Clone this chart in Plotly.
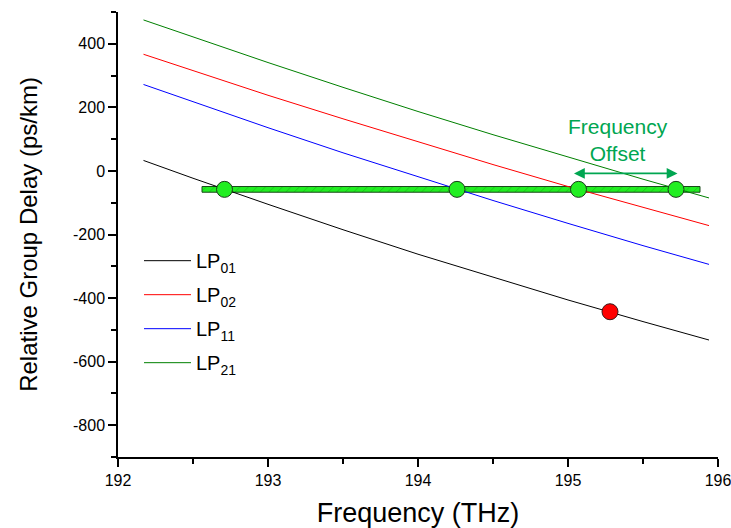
import plotly.graph_objects as go

# Frequency grid (THz) and relative group delay (ps/km)
freq = [192.17, 192.5, 193.0, 193.5, 194.0, 194.5, 195.0, 195.5, 195.94]
lp01 = [33, -23, -105, -185, -262, -335, -406, -474, -532]
lp02 = [367, 315, 238, 164, 91, 20, -49, -115, -172]
lp11 = [272, 217, 136, 57, -19, -93, -165, -235, -294]
lp21 = [475, 421, 341, 263, 187, 114, 43, -26, -85]

series_names = ["LP<sub>01</sub>", "LP<sub>02</sub>", "LP<sub>11</sub>", "LP<sub>21</sub>"]
series_values = [lp01, lp02, lp11, lp21]
series_colors = ["#000000", "#ff0000", "#0000ff", "#008000"]

# Green operating band and its crossing points
band_start = 192.56
band_end = 195.88
band_delay = -58
cross_freq = [192.71, 194.26, 195.07, 195.72]
cross_delay = [-58, -58, -58, -58]

# Red marker on LP01
red_freq = [195.28]
red_delay = [-443]

# Frequency offset arrow
arrow_from = 195.03
arrow_to = 195.73
arrow_delay = -8
label_freq = 195.33
label_delay = 97

x_ticks = [192, 193, 194, 195, 196]
y_ticks = [-800, -600, -400, -200, 0, 200, 400]

FONT = "Liberation Sans, Arial, sans-serif"
GREEN_TXT = "#00a651"

fig = go.Figure()

for i, (name, vals, col) in enumerate(zip(series_names, series_values, series_colors)):
    fig.add_trace(go.Scatter(x=freq, y=vals, mode="lines", name=name,
                             legendgroup=f"g{i}",
                             line=dict(color=col, width=1)))

fig.add_trace(go.Bar(orientation="h", y=[band_delay], x=[band_end - band_start],
                     base=[band_start], width=18, showlegend=False,
                     marker=dict(color="#22ee22",
                                 line=dict(color="#1a4a1a", width=1),
                                 pattern=dict(shape="/", fgcolor="#0b9a0b",
                                              size=6, solidity=0.15))))

fig.add_trace(go.Scatter(x=cross_freq, y=cross_delay, mode="markers", showlegend=False,
                         marker=dict(size=16, color="#22ee22",
                                     line=dict(color="#1a3a1a", width=1))))
fig.add_trace(go.Scatter(x=red_freq, y=red_delay, mode="markers", showlegend=False,
                         marker=dict(size=16, color="#ff0000",
                                     line=dict(color="#3a1a1a", width=1))))

fig.add_annotation(x=arrow_to, y=arrow_delay, ax=arrow_from, ay=arrow_delay,
                   xref="x", yref="y", axref="x", ayref="y", text="",
                   showarrow=True, arrowhead=2, arrowside="end+start",
                   arrowsize=1.2, arrowwidth=1.8, arrowcolor=GREEN_TXT)
fig.add_annotation(x=label_freq, y=label_delay, xref="x", yref="y",
                   text="Frequency<br>Offset", showarrow=False,
                   font=dict(family=FONT, size=21, color=GREEN_TXT))

fig.update_layout(
    width=731, height=528,
    margin=dict(l=118, r=13, t=12, b=71, autoexpand=False),
    plot_bgcolor="white", paper_bgcolor="white",
    font=dict(family=FONT, color="black", size=16),
    barmode="overlay",
    legend=dict(x=0.035, y=0.485, xanchor="left", yanchor="top",
                bgcolor="rgba(0,0,0,0)", font=dict(size=20, family=FONT),
                itemwidth=47, tracegroupgap=5),
    xaxis=dict(range=[192, 196], tickvals=x_ticks, ticktext=[str(v) for v in x_ticks],
               showgrid=False, zeroline=False, showline=True, linecolor="black",
               linewidth=1.5, ticks="outside", ticklen=8, tickwidth=1.5,
               tickcolor="black", tickfont=dict(size=16), ticklabeloverflow="allow",
               automargin=False,
               minor=dict(dtick=0.5, ticks="outside", ticklen=5, tickwidth=1.5,
                          tickcolor="black"),
               title=dict(text="Frequency (THz)", font=dict(size=27), standoff=17)),
    yaxis=dict(range=[-900, 500], tickvals=y_ticks, ticktext=[str(v) for v in y_ticks],
               showgrid=False, zeroline=False, showline=True, linecolor="black",
               linewidth=1.5, ticks="outside", ticklen=8, tickwidth=1.5,
               tickcolor="black", tickfont=dict(size=16), automargin=False,
               minor=dict(dtick=100, ticks="outside", ticklen=5, tickwidth=1.5,
                          tickcolor="black"),
               title=dict(text="Relative Group Delay (ps/km)", font=dict(size=24),
                          standoff=29)),
)

fig.write_html("out.html",
               config={"displayModeBar": False},
               post_script="document.body.style.margin='0';"
                           "document.body.style.overflow='hidden';")
